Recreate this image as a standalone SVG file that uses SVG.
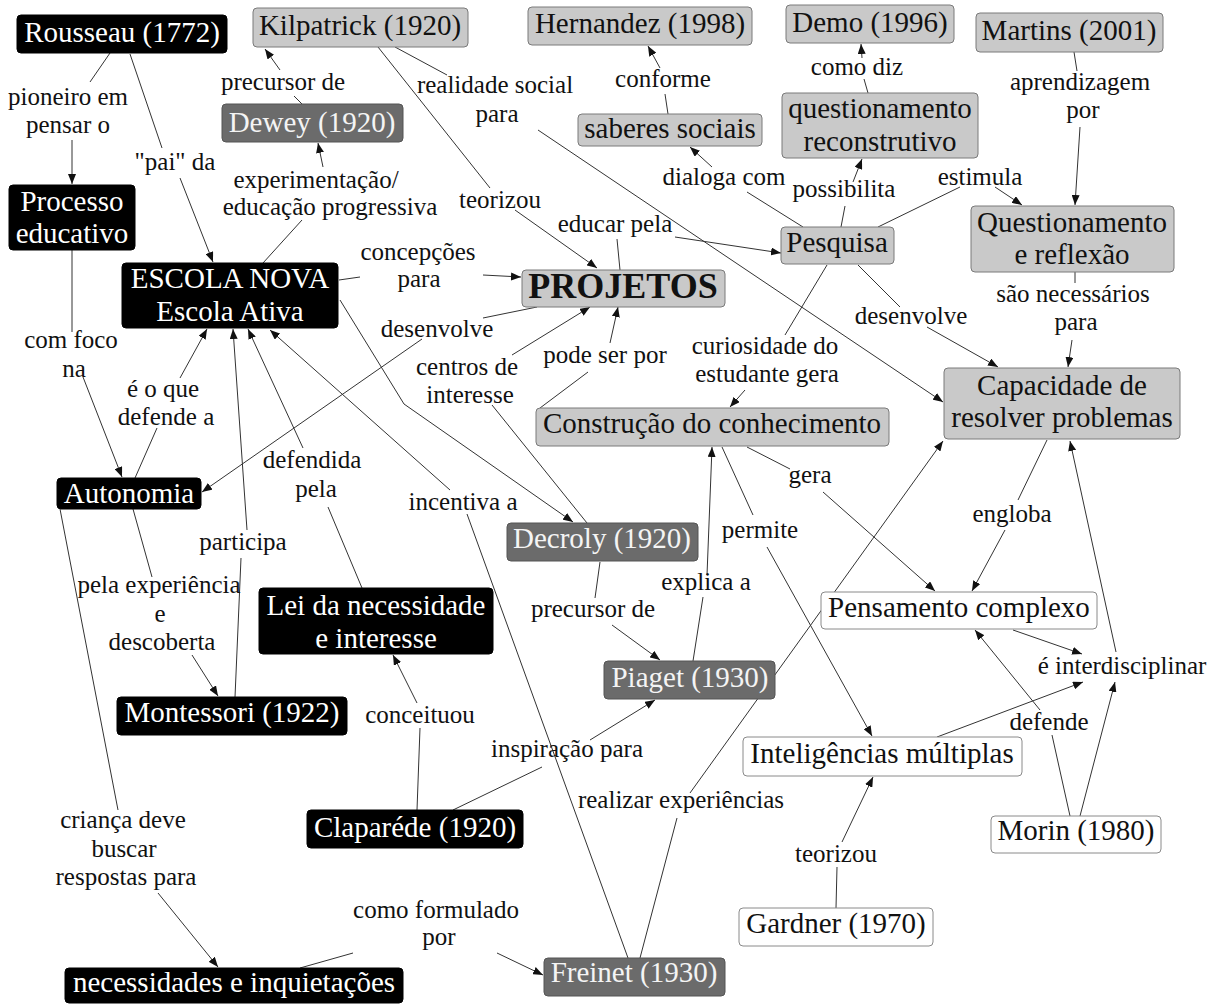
<svg xmlns="http://www.w3.org/2000/svg" width="1219" height="1004" viewBox="0 0 1219 1004">
<defs>
<marker id="ah" markerUnits="userSpaceOnUse" markerWidth="10" markerHeight="8" refX="10" refY="4" orient="auto">
<path d="M0,0 L10,4 L0,8 z" fill="#111"/>
</marker>
<style>
text{font-family:"Liberation Serif","Times New Roman",serif;}
.nt{font-size:29px;text-anchor:middle;}
.lb{font-size:25px;text-anchor:middle;fill:#111;}
.blk rect{fill:#000;stroke:#000;}
.blk text{fill:#fff;}
.lg rect{fill:#c9c9c9;stroke:#7a7a7a;stroke-width:1;}
.lg text{fill:#111;}
.dg rect{fill:#6b6b6b;stroke:#555;}
.dg text{fill:#f4f4f4;}
.wh rect{fill:#fff;stroke:#8a8a8a;stroke-width:1;}
.wh text{fill:#111;}
#links line,#links polyline{stroke:#333;stroke-width:1;fill:none;}
.a{marker-end:url(#ah);}
</style>
</defs>
<rect width="1219" height="1004" fill="#fff"/>

<g id="links">
<line x1="110" y1="53" x2="90" y2="82"/>
<line class="a" x1="72" y1="140" x2="72" y2="184"/>
<line x1="130" y1="54" x2="162" y2="148"/>
<line class="a" x1="180" y1="178" x2="213" y2="262"/>
<line x1="302" y1="104" x2="294" y2="96"/>
<line class="a" x1="280" y1="70" x2="265" y2="49"/>
<line x1="263" y1="263" x2="302" y2="220"/>
<line class="a" x1="323" y1="167" x2="318" y2="143"/>
<line x1="395" y1="47" x2="447" y2="75"/>
<line class="a" x1="538" y1="130" x2="943" y2="402"/>
<line x1="378" y1="47" x2="490" y2="188"/>
<line class="a" x1="515" y1="210" x2="597" y2="268"/>
<line x1="668" y1="114" x2="665" y2="94"/>
<line class="a" x1="660" y1="68" x2="648" y2="46"/>
<line x1="868" y1="93" x2="864" y2="79"/>
<line class="a" x1="862" y1="58" x2="861" y2="44"/>
<line x1="1074" y1="52" x2="1077" y2="71"/>
<line class="a" x1="1080" y1="127" x2="1075" y2="205"/>
<line x1="803" y1="227" x2="747" y2="192"/>
<line class="a" x1="712" y1="167" x2="690" y2="147"/>
<line x1="841" y1="227" x2="845" y2="206"/>
<line class="a" x1="853" y1="182" x2="862" y2="159"/>
<line x1="878" y1="227" x2="960" y2="187"/>
<line class="a" x1="995" y1="187" x2="1022" y2="205"/>
<line x1="620" y1="270" x2="617" y2="239"/>
<line class="a" x1="675" y1="237" x2="781" y2="253"/>
<line x1="339" y1="280" x2="360" y2="277"/>
<line class="a" x1="483" y1="275" x2="521" y2="277"/>
<line x1="537" y1="307" x2="483" y2="318"/>
<line class="a" x1="422" y1="339" x2="202" y2="492"/>
<polyline class="a" points="340,300 404,404 573,522"/>
<line x1="587" y1="523" x2="492" y2="405"/>
<line class="a" x1="512" y1="355" x2="590" y2="307"/>
<line x1="540" y1="408" x2="588" y2="372"/>
<line class="a" x1="610" y1="343" x2="618" y2="307"/>
<line x1="827" y1="265" x2="785" y2="335"/>
<line class="a" x1="745" y1="390" x2="730" y2="407"/>
<line x1="858" y1="265" x2="900" y2="307"/>
<line class="a" x1="927" y1="327" x2="998" y2="367"/>
<line x1="1075" y1="272" x2="1075" y2="283"/>
<line class="a" x1="1072" y1="340" x2="1068" y2="367"/>
<line x1="1047" y1="440" x2="1018" y2="500"/>
<line class="a" x1="1005" y1="530" x2="972" y2="591"/>
<line x1="747" y1="447" x2="790" y2="469"/>
<line class="a" x1="823" y1="492" x2="935" y2="591"/>
<line x1="722" y1="447" x2="753" y2="515"/>
<line class="a" x1="767" y1="547" x2="872" y2="736"/>
<line x1="693" y1="661" x2="703" y2="597"/>
<line class="a" x1="707" y1="575" x2="712" y2="447"/>
<line x1="600" y1="562" x2="595" y2="598"/>
<line class="a" x1="612" y1="625" x2="660" y2="660"/>
<line x1="453" y1="810" x2="542" y2="767"/>
<line class="a" x1="590" y1="740" x2="655" y2="700"/>
<line x1="417" y1="810" x2="420" y2="728"/>
<line class="a" x1="417" y1="703" x2="393" y2="655"/>
<line x1="640" y1="958" x2="677" y2="818"/>
<line class="a" x1="690" y1="793" x2="943" y2="441"/>
<line x1="628" y1="958" x2="467" y2="514"/>
<line class="a" x1="450" y1="490" x2="270" y2="330"/>
<line class="a" x1="1013" y1="630" x2="1082" y2="654"/>
<line class="a" x1="937" y1="737" x2="1083" y2="682"/>
<line class="a" x1="1080" y1="816" x2="1115" y2="682"/>
<line class="a" x1="1116" y1="652" x2="1070" y2="441"/>
<line x1="1070" y1="816" x2="1052" y2="735"/>
<line class="a" x1="1040" y1="710" x2="975" y2="630"/>
<line x1="836" y1="908" x2="837" y2="867"/>
<line class="a" x1="842" y1="842" x2="873" y2="777"/>
<line x1="72" y1="250" x2="72" y2="332"/>
<line class="a" x1="83" y1="377" x2="122" y2="477"/>
<line x1="135" y1="478" x2="157" y2="428"/>
<line class="a" x1="180" y1="378" x2="207" y2="329"/>
<line x1="133" y1="509" x2="152" y2="577"/>
<line class="a" x1="192" y1="655" x2="218" y2="696"/>
<line x1="235" y1="697" x2="241" y2="558"/>
<line class="a" x1="247" y1="530" x2="233" y2="329"/>
<line x1="362" y1="588" x2="328" y2="507"/>
<line class="a" x1="303" y1="448" x2="248" y2="329"/>
<line x1="60" y1="509" x2="118" y2="810"/>
<line class="a" x1="158" y1="893" x2="218" y2="967"/>
<line x1="300" y1="968" x2="353" y2="953"/>
<line class="a" x1="497" y1="953" x2="543" y2="975"/>
</g>

<g id="labels" class="lbls">
<text class="lb" x="68" y="105">pioneiro em</text>
<text class="lb" x="68" y="133">pensar o</text>
<text class="lb" x="175" y="170">"pai" da</text>
<text class="lb" x="283" y="90">precursor de</text>
<text class="lb" x="495" y="93">realidade social</text>
<text class="lb" x="497" y="122">para</text>
<text class="lb" x="663" y="87">conforme</text>
<text class="lb" x="857" y="75">como diz</text>
<text class="lb" x="1080" y="90">aprendizagem</text>
<text class="lb" x="1083" y="118">por</text>
<text class="lb" x="316" y="188">experimentação/</text>
<text class="lb" x="330" y="215">educação progressiva</text>
<text class="lb" x="500" y="208">teorizou</text>
<text class="lb" x="615" y="232">educar pela</text>
<text class="lb" x="724" y="185">dialoga com</text>
<text class="lb" x="844" y="197">possibilita</text>
<text class="lb" x="980" y="185">estimula</text>
<text class="lb" x="418" y="260">concepções</text>
<text class="lb" x="419" y="287">para</text>
<text class="lb" x="437" y="337">desenvolve</text>
<text class="lb" x="911" y="324">desenvolve</text>
<text class="lb" x="1073" y="302">são necessários</text>
<text class="lb" x="1076" y="330">para</text>
<text class="lb" x="71" y="348">com foco</text>
<text class="lb" x="74" y="377">na</text>
<text class="lb" x="163" y="397">é o que</text>
<text class="lb" x="166" y="425">defende a</text>
<text class="lb" x="467" y="375">centros de</text>
<text class="lb" x="470" y="403">interesse</text>
<text class="lb" x="605" y="363">pode ser por</text>
<text class="lb" x="765" y="354">curiosidade do</text>
<text class="lb" x="767" y="382">estudante gera</text>
<text class="lb" x="312" y="468">defendida</text>
<text class="lb" x="316" y="497">pela</text>
<text class="lb" x="463" y="510">incentiva a</text>
<text class="lb" x="810" y="483">gera</text>
<text class="lb" x="1012" y="522">engloba</text>
<text class="lb" x="760" y="538">permite</text>
<text class="lb" x="243" y="550">participa</text>
<text class="lb" x="159" y="593">pela experiência</text>
<text class="lb" x="160" y="622">e</text>
<text class="lb" x="162" y="650">descoberta</text>
<text class="lb" x="706" y="590">explica a</text>
<text class="lb" x="593" y="617">precursor de</text>
<text class="lb" x="1122" y="674">é interdisciplinar</text>
<text class="lb" x="1049" y="730">defende</text>
<text class="lb" x="420" y="723">conceituou</text>
<text class="lb" x="567" y="757">inspiração para</text>
<text class="lb" x="681" y="808">realizar experiências</text>
<text class="lb" x="836" y="862">teorizou</text>
<text class="lb" x="123" y="828">criança deve</text>
<text class="lb" x="124" y="857">buscar</text>
<text class="lb" x="126" y="885">respostas para</text>
<text class="lb" x="436" y="918">como formulado</text>
<text class="lb" x="439" y="945">por</text>
</g>

<g id="n-rousseau" class="blk"><rect x="17" y="15" width="210" height="38" rx="4"/><text class="nt" x="122" y="42">Rousseau (1772)</text></g>
<g id="n-kilpatrick" class="lg"><rect x="253" y="8" width="215" height="39" rx="4"/><text class="nt" x="360" y="35">Kilpatrick (1920)</text></g>
<g id="n-hernandez" class="lg"><rect x="528" y="7" width="224" height="38" rx="4"/><text class="nt" x="640" y="33">Hernandez (1998)</text></g>
<g id="n-demo" class="lg"><rect x="786" y="5" width="168" height="38" rx="4"/><text class="nt" x="870" y="32">Demo (1996)</text></g>
<g id="n-martins" class="lg"><rect x="976" y="13" width="187" height="39" rx="4"/><text class="nt" x="1069" y="40">Martins (2001)</text></g>
<g id="n-dewey" class="dg"><rect x="222" y="104" width="181" height="38" rx="4"/><text class="nt" x="312" y="132">Dewey (1920)</text></g>
<g id="n-saberes" class="lg"><rect x="578" y="114" width="184" height="32" rx="4"/><text class="nt" x="670" y="138">saberes sociais</text></g>
<g id="n-qreconstrutivo" class="lg"><rect x="782" y="93" width="196" height="65" rx="4"/><text class="nt" x="880" y="118">questionamento</text><text class="nt" x="880" y="151">reconstrutivo</text></g>
<g id="n-processo" class="blk"><rect x="9" y="185" width="126" height="65" rx="4"/><text class="nt" x="72" y="211">Processo</text><text class="nt" x="72" y="243">educativo</text></g>
<g id="n-escolanova" class="blk"><rect x="122" y="263" width="216" height="65" rx="4"/><text class="nt" x="230" y="288">ESCOLA NOVA</text><text class="nt" x="230" y="321">Escola Ativa</text></g>
<g id="n-projetos" class="lg"><rect x="522" y="270" width="203" height="37" rx="4"/><text x="623" y="298" style="font-size:36px;font-weight:bold;text-anchor:middle;">PROJETOS</text></g>
<g id="n-pesquisa" class="lg"><rect x="781" y="227" width="113" height="37" rx="4"/><text class="nt" x="837" y="252">Pesquisa</text></g>
<g id="n-qreflexao" class="lg"><rect x="971" y="206" width="203" height="66" rx="4"/><text class="nt" x="1072" y="232">Questionamento</text><text class="nt" x="1072" y="264">e reflexão</text></g>
<g id="n-capacidade" class="lg"><rect x="944" y="368" width="236" height="71" rx="4"/><text class="nt" x="1062" y="395">Capacidade de</text><text class="nt" x="1062" y="427">resolver problemas</text></g>
<g id="n-construcao" class="lg"><rect x="536" y="408" width="353" height="38" rx="4"/><text class="nt" x="712" y="433">Construção do conhecimento</text></g>
<g id="n-autonomia" class="blk"><rect x="57" y="478" width="144" height="31" rx="4"/><text class="nt" x="129" y="503">Autonomia</text></g>
<g id="n-decroly" class="dg"><rect x="507" y="523" width="191" height="38" rx="4"/><text class="nt" x="602" y="548">Decroly (1920)</text></g>
<g id="n-lei" class="blk"><rect x="259" y="588" width="234" height="66" rx="4"/><text class="nt" x="376" y="615">Lei da necessidade</text><text class="nt" x="376" y="648">e interesse</text></g>
<g id="n-pensamento" class="wh"><rect x="821" y="592" width="276" height="37" rx="4"/><text class="nt" x="959" y="617">Pensamento complexo</text></g>
<g id="n-piaget" class="dg"><rect x="604" y="661" width="171" height="38" rx="4"/><text class="nt" x="690" y="687">Piaget (1930)</text></g>
<g id="n-montessori" class="blk"><rect x="117" y="697" width="230" height="38" rx="4"/><text class="nt" x="232" y="722">Montessori (1922)</text></g>
<g id="n-inteligencias" class="wh"><rect x="743" y="737" width="279" height="39" rx="4"/><text class="nt" x="882" y="763">Inteligências múltiplas</text></g>
<g id="n-claparede" class="blk"><rect x="307" y="810" width="216" height="38" rx="4"/><text class="nt" x="415" y="837">Claparéde (1920)</text></g>
<g id="n-morin" class="wh"><rect x="991" y="816" width="170" height="37" rx="4"/><text class="nt" x="1076" y="840">Morin (1980)</text></g>
<g id="n-gardner" class="wh"><rect x="739" y="908" width="194" height="38" rx="4"/><text class="nt" x="836" y="933">Gardner (1970)</text></g>
<g id="n-necessidades" class="blk"><rect x="65" y="968" width="338" height="35" rx="4"/><text class="nt" x="234" y="992">necessidades e inquietações</text></g>
<g id="n-freinet" class="dg"><rect x="544" y="958" width="181" height="38" rx="4"/><text class="nt" x="634" y="982">Freinet (1930)</text></g>
</svg>
